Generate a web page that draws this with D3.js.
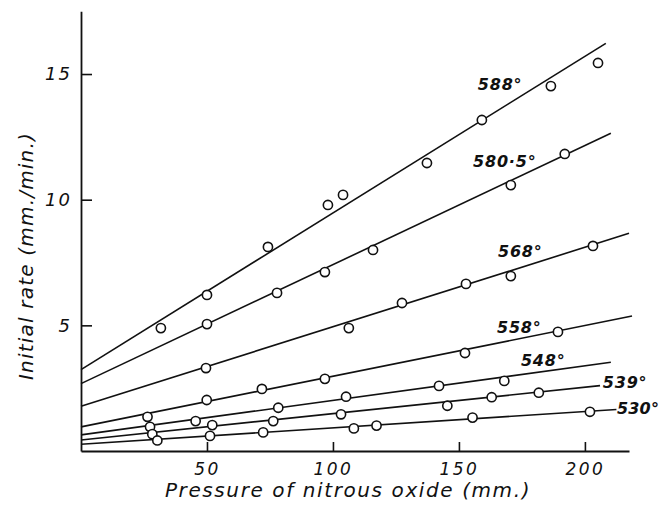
<!DOCTYPE html>
<html>
<head>
<meta charset="utf-8">
<script src="https://cdn.jsdelivr.net/npm/d3@7"></script>
<style>
  html, body { margin: 0; padding: 0; background: #fff; }
  svg { display: block; }
  text { font-family: "DejaVu Sans", sans-serif; font-style: italic; fill: #111; }
</style>
</head>
<body>
<svg id="chart" width="663" height="506"></svg>
<script>
// ---- data ----
const seriesNames = ["588°", "580·5°", "568°", "558°", "548°", "539°", "530°"];

const p588x = [31.7, 50.0, 74.2, 98.0, 104.0, 137.3, 159.1, 186.5, 205.2];
const p588y = [4.89, 6.21, 8.12, 9.79, 10.19, 11.46, 13.17, 14.52, 15.44];

const p580x = [50.0, 77.8, 96.8, 115.9, 170.6, 192.0];
const p580y = [5.05, 6.29, 7.12, 8.00, 10.58, 11.82];

const p568x = [49.6, 106.3, 127.4, 152.8, 170.6, 203.2];
const p568y = [3.30, 4.89, 5.89, 6.65, 6.96, 8.16];

const p558x = [26.4, 49.9, 71.8, 96.8, 152.4, 189.3];
const p558y = [1.36, 2.03, 2.47, 2.87, 3.90, 4.74];

const p548x = [27.4, 45.5, 78.3, 105.2, 142.1, 168.0];
const p548y = [0.96, 1.19, 1.72, 2.16, 2.59, 2.79];

const p539x = [28.3, 52.1, 76.3, 103.2, 145.4, 163.0, 181.7];
const p539y = [0.67, 1.03, 1.19, 1.46, 1.80, 2.14, 2.32];

const p530x = [30.3, 51.2, 72.3, 108.3, 117.3, 155.4, 202.0];
const p530y = [0.42, 0.60, 0.74, 0.90, 1.01, 1.33, 1.56];

// fitted straight lines: value at zero pressure, and end point
const lineStartY = [3.24, 2.68, 1.78, 0.96, 0.64, 0.44, 0.27];
const lineEndX   = [208.3, 210.3, 217.5, 218.7, 210.3, 206.0, 212.5];
const lineEndY   = [16.22, 12.64, 8.66, 5.37, 3.53, 2.60, 1.65];

const xTicks = [50, 100, 150, 200];
const yTicks = [5, 10, 15];
const xTitle = "Pressure of nitrous oxide (mm.)";
const yTitle = "Initial rate (mm./min.)";

// ---- layout (label anchors in data units) ----
const labelAnchorX = [157.5, 155.6, 165.5, 165.1, 174.6, 207.1, 212.7];
const labelAnchorY = [14.36, 11.31, 7.71, 4.70, 3.38, 2.51, 1.46];

const pointsX = [p588x, p580x, p568x, p558x, p548x, p539x, p530x];
const pointsY = [p588y, p580y, p568y, p558y, p548y, p539y, p530y];

const svg = d3.select("#chart");
const x = d3.scaleLinear().domain([0, 217.5]).range([81, 629]);
const y = d3.scaleLinear().domain([0, 17.5]).range([451, 11.2]);

// axes
const xAxis = d3.axisBottom(x).tickValues(xTicks).tickSize(-9).tickSizeOuter(0).tickPadding(12);
const gx = svg.append("g").attr("transform", `translate(0,${y(0)})`).call(xAxis);
gx.select(".domain").attr("stroke", "#111").attr("stroke-width", 1.8);
gx.selectAll(".tick line").attr("stroke", "#111").attr("stroke-width", 1.6);
gx.selectAll(".tick text").attr("font-size", 17).attr("letter-spacing", 2.5)
  .style("font-family", '"DejaVu Sans", sans-serif').style("font-style", "italic").attr("fill", "#111");

const yAxis = d3.axisLeft(y).tickValues(yTicks).tickSize(-11).tickSizeOuter(0).tickPadding(9);
const gy = svg.append("g").attr("transform", `translate(${x(0)},0)`).call(yAxis);
gy.select(".domain").attr("stroke", "#111").attr("stroke-width", 1.8);
gy.selectAll(".tick line").attr("stroke", "#111").attr("stroke-width", 1.6);
gy.selectAll(".tick text").attr("font-size", 18).attr("letter-spacing", 2)
  .style("font-family", '"DejaVu Sans", sans-serif').style("font-style", "italic").attr("fill", "#111");

// fitted lines
const lineGen = d3.line().x(d => x(d[0])).y(d => y(d[1]));
seriesNames.forEach((name, i) => {
  svg.append("path")
    .datum([[0, lineStartY[i]], [lineEndX[i], lineEndY[i]]])
    .attr("d", lineGen)
    .attr("fill", "none")
    .attr("stroke", "#111")
    .attr("stroke-width", 1.6);
});

// points
seriesNames.forEach((name, i) => {
  const pts = pointsX[i].map((v, j) => [v, pointsY[i][j]]);
  svg.append("g").selectAll("circle").data(pts).join("circle")
    .attr("cx", d => x(d[0]))
    .attr("cy", d => y(d[1]))
    .attr("r", 4.6)
    .attr("fill", "#fff")
    .attr("stroke", "#111")
    .attr("stroke-width", 1.6);
});

// series labels
seriesNames.forEach((name, i) => {
  svg.append("text")
    .attr("x", x(labelAnchorX[i]))
    .attr("y", y(labelAnchorY[i]))
    .attr("font-size", 16)
    .attr("font-weight", "bold")
    .attr("letter-spacing", i === seriesNames.length - 1 ? 0.2 : 0.8)
    .text(name);
});

// axis titles
svg.append("text")
  .attr("x", 348)
  .attr("y", 497)
  .attr("text-anchor", "middle")
  .attr("font-size", 20)
  .attr("letter-spacing", 1.6)
  .text(xTitle);

svg.append("text")
  .attr("transform", "translate(33,256) rotate(-90)")
  .attr("text-anchor", "middle")
  .attr("font-size", 20)
  .attr("letter-spacing", 1.2)
  .text(yTitle);
</script>
</body>
</html>
